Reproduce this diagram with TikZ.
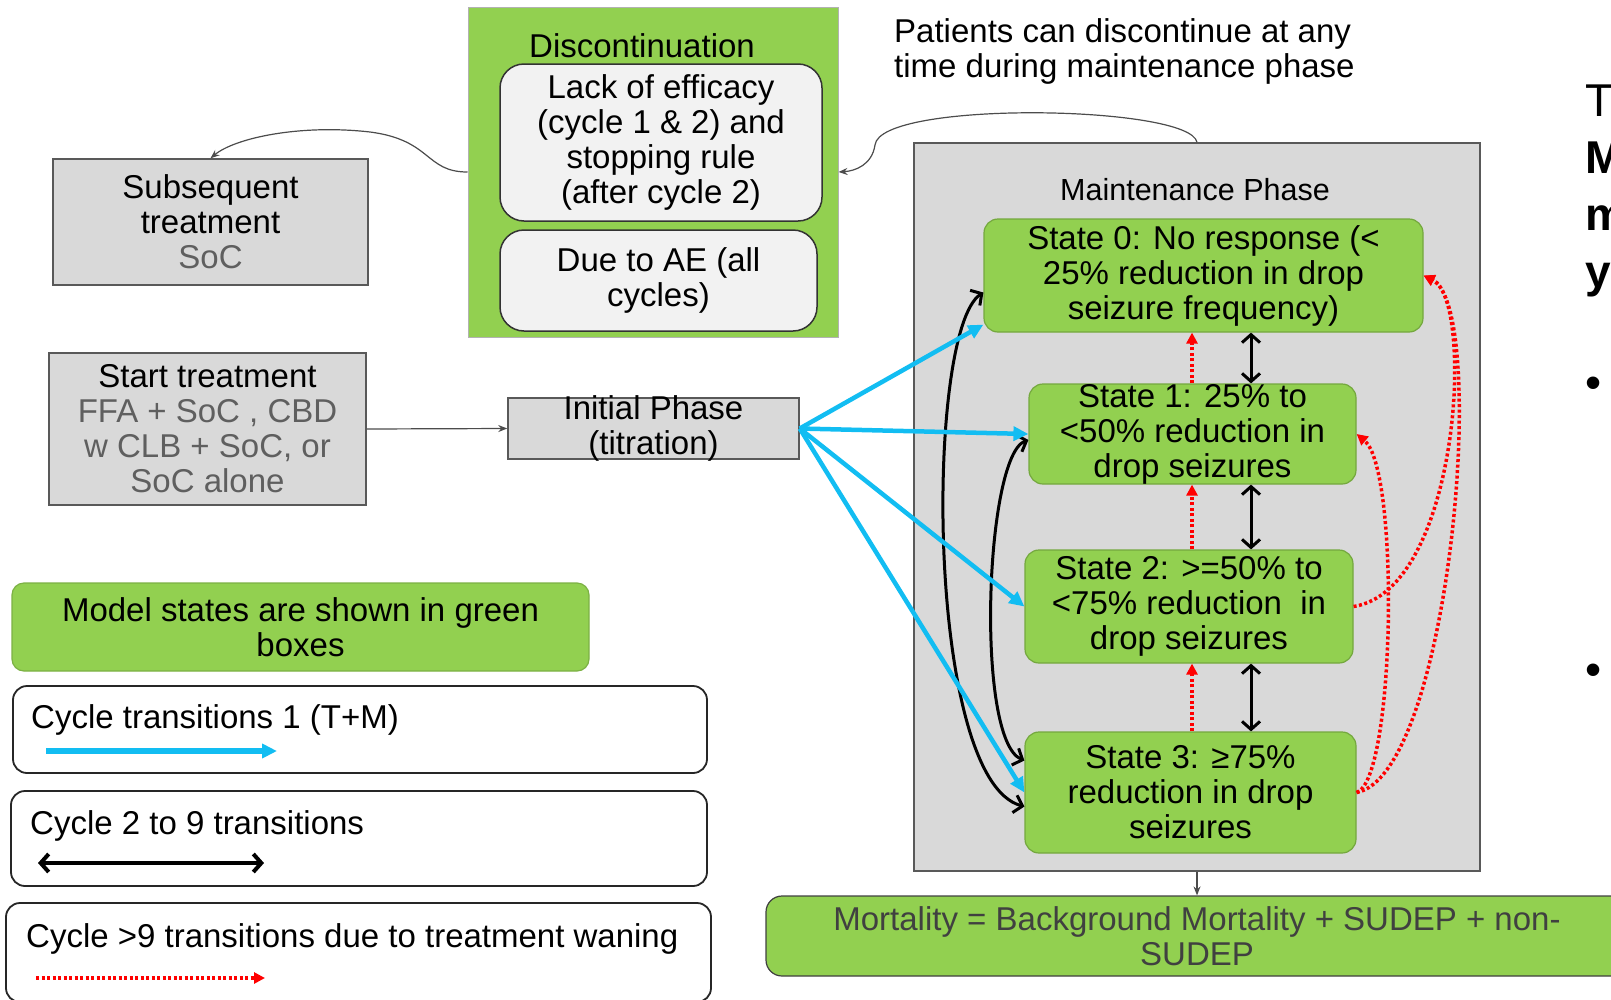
\documentclass[tikz,border=0pt]{standalone}
\usepackage{fontspec}
\setmainfont{Liberation Sans}
\usepackage{tikz}
\usetikzlibrary{arrows.meta}
\definecolor{mgreen}{HTML}{92D050}
\definecolor{mgreenline}{HTML}{74A83E}
\definecolor{mgray}{HTML}{D9D9D9}
\definecolor{mgrayline}{HTML}{595959}
\definecolor{mlight}{HTML}{F2F2F2}
\definecolor{mblue}{HTML}{12BDF2}
\definecolor{mred}{HTML}{FF0000}
\definecolor{mtext}{HTML}{5F5F5F}

\begin{document}
\begin{tikzpicture}[
    x=1pt, y=-1pt, inner sep=0pt,
    font=\fontsize{33}{35}\selectfont,
    greybox/.style={rectangle, draw=mgrayline, fill=mgray, line width=1.5pt, align=center},
    statebox/.style={rectangle, draw=mgreenline, fill=mgreen, line width=1.2pt, rounded corners=14pt, align=center},
    reasonbox/.style={rectangle, draw=black!80, fill=mlight, line width=1.5pt, rounded corners=24pt, align=center},
    legendbox/.style={rectangle, draw=black!85, line width=1.8pt, rounded corners=14pt},
    bigtext/.style={anchor=base west, font=\fontsize{46}{57}\selectfont},
    thinarrow/.style={-{Stealth[length=9pt,width=7pt]}, line width=1.2pt, draw=black!70},
    bluearrow/.style={-{Triangle[length=15pt,width=14pt]}, line width=4.5pt, draw=mblue},
    cyclearrow/.style={{Straight Barb[length=8pt,width=18pt]}-{Straight Barb[length=8pt,width=18pt]}, line width=3pt},
    wanearrow/.style={-{Triangle[length=11pt,width=11pt]}, line width=3.5pt, draw=mred, dash pattern=on 3pt off 2.5pt}
]
\useasboundingbox (0,0) rectangle (1611,999);
\clip (0,0) rectangle (1611,999);

\node[greybox, minimum width=315pt, minimum height=126pt] (subs) at (210.5,222) {Subsequent\\treatment\\\textcolor{mtext}{SoC}};
\node[greybox, minimum width=317pt, minimum height=152pt] (start) at (207.5,429) {Start treatment\\\textcolor{mtext}{FFA + SoC , CBD}\\\textcolor{mtext}{w CLB + SoC, or}\\\textcolor{mtext}{SoC alone}};
\node[greybox, minimum width=291pt, minimum height=61pt, inner ysep=-3pt] (init) at (653.5,428.5) {Initial Phase\\(titration)};

\node[rectangle, draw=black!30, fill=mgreen, line width=1pt, minimum width=370pt, minimum height=330pt] (disc) at (653,172) {};
\node (disctitle) at (642,46) {Discontinuation};
\node[reasonbox, minimum width=322pt, minimum height=157pt] (lack) at (661,142.5) {Lack of efficacy\\(cycle 1 \& 2) and\\stopping rule\\(after cycle 2)};
\node[reasonbox, minimum width=317pt, minimum height=101pt] (ae) at (658.5,280.5) {Due to AE (all\\cycles)};

\node[align=left, anchor=west] (note) at (894,51) {Patients can discontinue at any\\time during maintenance phase};

\node[greybox, minimum width=566pt, minimum height=728pt] (maint) at (1197,507) {};
\node[font=\fontsize{30.5}{34}\selectfont] (mainttitle) at (1195,190) {Maintenance Phase};
\node[statebox, minimum width=439pt, minimum height=113pt] (s0) at (1203.5,275.5) {State 0: No response (<\\25\% reduction in drop\\seizure frequency)};
\node[statebox, minimum width=327pt, minimum height=100pt, inner ysep=-1pt] (s1) at (1192.5,434) {State 1: 25\% to\\<50\% reduction in\\drop seizures};
\node[statebox, minimum width=328pt, minimum height=113pt] (s2) at (1189,606.5) {State 2: >=50\% to\\<75\% reduction~ in\\drop seizures};
\node[statebox, minimum width=331pt, minimum height=121pt] (s3) at (1190.5,792.5) {State 3: ≥75\%\\reduction in drop\\seizures};

\node[statebox, draw=black!75, text=black!75, minimum width=862pt, minimum height=80pt, rounded corners=16pt] (mort) at (1197,936) {Mortality = Background Mortality + SUDEP + non-\\SUDEP};

\node[statebox, draw=mgreen!85!black, minimum width=577pt, minimum height=88pt, rounded corners=12pt] (leg0) at (300.5,627) {Model states are shown in green\\boxes};
\node[legendbox, minimum width=694pt, minimum height=87pt] (leg1) at (360,729.5) {};
\node[anchor=west] (leg1text) at (31,720) {Cycle transitions 1 (T+M)};
\node[legendbox, minimum width=696pt, minimum height=95pt] (leg2) at (359,838.5) {};
\node[anchor=west] (leg2text) at (30,826) {Cycle 2 to 9 transitions};
\node[legendbox, minimum width=705pt, minimum height=99pt] (leg3) at (358.5,952.5) {};
\node[anchor=west] (leg3text) at (26,939) {Cycle >9 transitions due to treatment waning};

\node[bigtext] (cutT) at (1585,116) {T};
\node[bigtext, font=\fontsize{46}{57}\selectfont\bfseries] (cutM) at (1585,173) {M};
\node[bigtext, font=\fontsize{46}{57}\selectfont\bfseries] (cutm) at (1585,230) {m};
\node[bigtext, font=\fontsize{46}{57}\selectfont\bfseries] (cuty) at (1585,287) {y};
\node[font=\fontsize{46}{57}\selectfont] (bul1) at (1594,388) {•};
\node[font=\fontsize{46}{57}\selectfont] (bul2) at (1594,675) {•};

\coordinate (l1a) at (46,751);
\coordinate (l1b) at (277,751);
\coordinate (l2a) at (38,863);
\coordinate (l2b) at (264,863);
\coordinate (l3a) at (36,978);
\coordinate (l3b) at (265,978);
\draw[bluearrow, line width=5.5pt] (l1a) -- (l1b);
\draw[cyclearrow, line width=4pt] (l2a) -- (l2b);
\draw[wanearrow] (l3a) -- (l3b);

\draw[thinarrow] (start.east) -- (init.west);
\draw[thinarrow] (disc.west) .. controls (425,172) and (432,140) .. (370,132) .. controls (300,124) and (235,138) .. (subs.north);
\draw[thinarrow] (maint.north) .. controls (1190,105) and (880,100) .. (875,145) .. controls (872,165) and (855,171) .. (disc.east);
\draw[thinarrow] (maint.south) -- (mort.north);

\coordinate (bx) at (1251,0);
\coordinate (rx) at (1192,0);
\draw[cyclearrow] (s0.south -| bx) -- (s1.north -| bx);
\draw[cyclearrow] (s1.south -| bx) -- (s2.north -| bx);
\draw[cyclearrow] (s2.south -| bx) -- (s3.north -| bx);
\draw[cyclearrow] ([yshift=-17pt]s0.west) .. controls (925,330) and (925,780) .. ([yshift=-14pt]s3.west);
\draw[cyclearrow] ([yshift=-6pt]s1.west) .. controls (985,455) and (975,740) .. ([yshift=32pt]s3.west);

\draw[wanearrow] (s1.north -| rx) -- (s0.south -| rx);
\draw[wanearrow] (s2.north -| rx) -- (s1.south -| rx);
\draw[wanearrow] (s3.north -| rx) -- (s2.south -| rx);
\draw[wanearrow] (s2.east) .. controls (1460,590) and (1475,300) .. (s0.east);
\draw[wanearrow] (s3.east) .. controls (1395,780) and (1400,470) .. (s1.east);
\draw[wanearrow] (s3.east) .. controls (1450,775) and (1490,310) .. (s0.east);

\draw[bluearrow] (init.east) -- ([yshift=8pt]s0.south west);
\draw[bluearrow] (init.east) -- (s1.west);
\draw[bluearrow] (init.east) -- (s2.west);
\draw[bluearrow] (init.east) -- (s3.west);
\end{tikzpicture}
\end{document}
